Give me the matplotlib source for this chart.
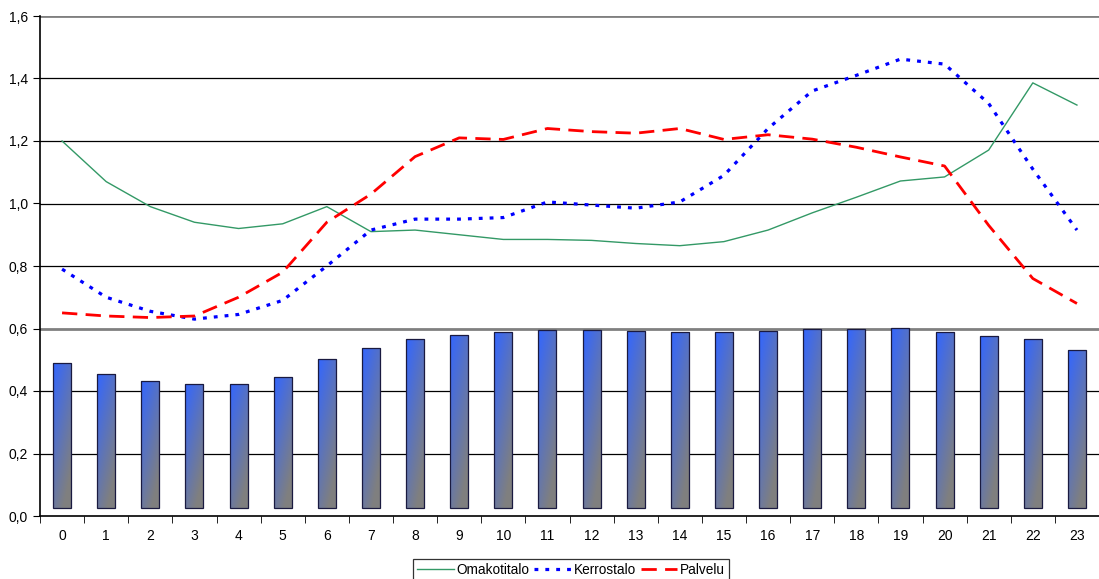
import matplotlib.pyplot as plt
import numpy as np
from matplotlib.ticker import FuncFormatter, MultipleLocator

plt.rcParams['font.family'] = ['Liberation Sans', 'DejaVu Sans']

hours = list(range(24))
bars = [0.49, 0.454, 0.432, 0.422, 0.422, 0.445, 0.502, 0.538, 0.566, 0.579, 0.589, 0.595,
        0.595, 0.592, 0.589, 0.589, 0.592, 0.598, 0.598, 0.602, 0.589, 0.576, 0.566, 0.531]
bar_base = 0.025
omakotitalo = [1.2, 1.07, 0.99, 0.94, 0.92, 0.935, 0.99, 0.91, 0.915, 0.90, 0.885, 0.885,
               0.882, 0.872, 0.865, 0.878, 0.915, 0.97, 1.02, 1.072, 1.085, 1.171, 1.386, 1.315]
kerrostalo = [0.79, 0.70, 0.655, 0.63, 0.645, 0.69, 0.80, 0.915, 0.95, 0.95, 0.955, 1.005,
              0.995, 0.985, 1.005, 1.09, 1.24, 1.36, 1.41, 1.462, 1.446, 1.32, 1.11, 0.915]
palvelu = [0.65, 0.64, 0.635, 0.64, 0.70, 0.78, 0.94, 1.03, 1.15, 1.21, 1.205, 1.24,
           1.23, 1.225, 1.24, 1.205, 1.22, 1.206, 1.18, 1.149, 1.12, 0.93, 0.76, 0.68]

fig = plt.figure(figsize=(10.99, 5.79), dpi=100)
ax = fig.add_axes([40/1099, 1-516/579, 1-40/1099, 500/579])

# gradient bars: blue top-left to grey bottom-right
blue = np.array([0.2, 0.4, 1.0])
grey = np.array([0.5, 0.5, 0.5])
gx, gy = np.meshgrid(np.linspace(0, 1, 30), np.linspace(0, 1, 100))
t = np.clip(0.45 * gx + 0.75 * gy, 0, 1)
grad = blue * (1 - t[..., None]) + grey * t[..., None]

rects = ax.bar(hours, np.array(bars) - bar_base, bottom=bar_base, width=0.41,
               facecolor='none', edgecolor='#1a1a40', linewidth=0.9, zorder=3)
for r in rects:
    x0, y0 = r.get_x(), r.get_y()
    im = ax.imshow(grad, extent=[x0, x0 + r.get_width(), y0, y0 + r.get_height()],
                   origin='upper', aspect='auto', zorder=2.5)
    im.set_clip_path(r)

ax.plot(hours, omakotitalo, color='#339966', lw=1.0, label='Omakotitalo', zorder=4)
ax.plot(hours, kerrostalo, color='#0000ff', lw=2.3, linestyle=(0, (1.2, 2.2)),
        label='Kerrostalo', zorder=4)
ax.plot(hours, palvelu, color='#ff0000', lw=2.0, linestyle=(0, (5.5, 3)),
        label='Palvelu', zorder=4)

ax.set_xlim(-0.5, 23.5)
ax.set_ylim(0, 1.6)
ax.yaxis.set_major_locator(MultipleLocator(0.2))
ax.yaxis.set_major_formatter(FuncFormatter(lambda v, p: f'{v:.1f}'.replace('.', ',')))
for v in np.arange(0.2, 1.61, 0.2):
    if abs(v - 0.6) < 1e-6 or abs(v - 1.6) < 1e-6:
        ax.axhline(v, color='#808080', lw=2, zorder=1)
    else:
        ax.axhline(v, color='black', lw=0.9, zorder=1)

ax.set_xticks(hours)
ax.set_xticks(np.arange(-0.5, 24, 1), minor=True)
ax.tick_params(axis='x', which='major', length=0, labelsize=10, pad=9)
ax.tick_params(axis='x', which='minor', length=5, direction='out')
ax.tick_params(axis='y', length=5, direction='out', labelsize=10)

for s in ['top', 'right']:
    ax.spines[s].set_visible(False)
ax.spines['left'].set_linewidth(1.2)
ax.spines['bottom'].set_linewidth(1.2)

leg = fig.legend(loc='upper center', bbox_to_anchor=(571/1099, 1-552/579), ncol=3,
                 frameon=True, fancybox=False, edgecolor='black', fontsize=9.8,
                 handlelength=2.7, handletextpad=0.2, columnspacing=0.35,
                 borderpad=0.3)
leg.get_frame().set_linewidth(0.9)

fig.savefig('out.png', dpi=100)
